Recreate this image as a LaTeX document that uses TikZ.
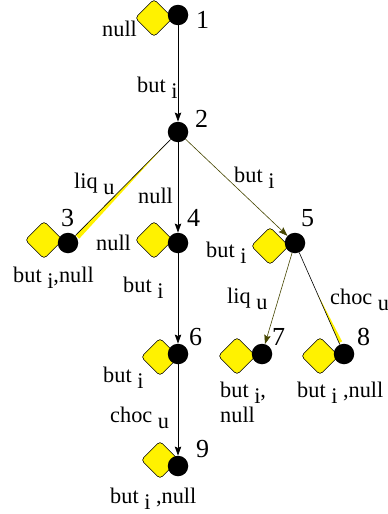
\documentclass[tikz,border=0pt]{standalone}
\usepackage{fontspec}
\setmainfont{Liberation Serif}
\usetikzlibrary{arrows.meta,calc}
\definecolor{olivedark}{RGB}{70,70,0}
\newcommand\sbs[1]{\raisebox{-6pt}{#1}}
\tikzset{
  dia/.style={draw=black, line width=0.6pt, fill=yellow, rounded corners=3.5pt, minimum size=26.5pt, inner sep=0pt, rotate=45},
  dot/.style={circle, fill=black, minimum size=20.5pt, inner sep=0pt},
  lbl/.style={anchor=base west, inner sep=0pt, font=\fontsize{22.3}{24}\selectfont},
  num/.style={anchor=base west, inner sep=0pt, font=\fontsize{26}{28}\selectfont},
  arr/.style={line width=0.6pt, -{Stealth[length=9pt,width=6.5pt,inset=1.5pt]}},
  ln/.style={line width=0.6pt}
}
\begin{document}
\begin{tikzpicture}[x=1pt,y=-1pt]
\fill[white] (0,0) rectangle (388,514);
\useasboundingbox (0,0) rectangle (388,514);
% diamonds
\node[dia] (d1) at (154,18) {};
\node[dia] (d3) at (44,240) {};
\node[dia] (d4) at (154,240) {};
\node[dia] (d5) at (270,246) {};
\node[dia] (d6) at (160,357) {};
\node[dia] (d7) at (237,356) {};
\node[dia] (d8) at (320,356) {};
\node[dia] (d9) at (160,460) {};
% circles
\node[dot] (c1) at (178,15) {};
\node[dot] (c2) at (178,132) {};
\node[dot] (c3) at (68,243) {};
\node[dot] (c4) at (178,243) {};
\node[dot] (c5) at (295,243) {};
\node[dot] (c6) at (178,354) {};
\node[dot] (c7) at (262,354) {};
\node[dot] (c8) at (344,354) {};
\node[dot] (c9) at (178,466) {};
% edges
\draw[arr] (c1) -- (c2);
\fill[yellow] ($(c2)!0.12!(c3)$) -- ($(c2)!0.93!(c3)$) -- ($(c2)!0.93!(c3)+(3.5,3.5)$) -- cycle;
\draw[ln] (c2) -- (c3);
\draw[arr] (c2) -- (c4);
\draw[arr, olivedark] (c2) -- (c5);
\draw[arr] (c4) -- (c6);
\draw[arr] (c6) -- (c9);
\draw[arr, olivedark] (c5) -- (c7);
\fill[yellow] ($(c5)!0.45!(c8)$) -- ($(c5)!0.9!(c8)$) -- ($(c5)!0.9!(c8)+(3,-1.5)$) -- cycle;
\draw[ln] (c5) -- (c8);
% numbers
\node[num] (n1) at (196,28) {1};
\node[num] (n2) at (195,127) {2};
\node[num] (n3) at (61,226) {3};
\node[num] (n4) at (187,226) {4};
\node[num] (n5) at (301,226) {5};
\node[num] (n6) at (189,345) {6};
\node[num] (n7) at (272,345) {7};
\node[num] (n8) at (357,345) {8};
\node[num] (n9) at (196,457) {9};
% labels
\node[lbl] (t1) at (102,36) {null};
\node[lbl] (e12) at (137,92) {but \sbs{i}};
\node[lbl] (e23) at (74,188) {liq \sbs{u}};
\node[lbl] (e24) at (138,203) {null};
\node[lbl] (e25) at (234,182) {but \sbs{i}};
\node[lbl] (t3) at (13,282) {but \sbs{i},null};
\node[lbl] (t4) at (96,250) {null};
\node[lbl] (t5) at (206,257) {but \sbs{i}};
\node[lbl] (e46) at (123,292) {but \sbs{i}};
\node[lbl] (e57) at (227,303) {liq \sbs{u}};
\node[lbl] (e58) at (330,304) {choc \sbs{u}};
\node[lbl] (t6) at (103,382) {but \sbs{i}};
\node[lbl] (e69) at (110,422) {choc \sbs{u}};
\node[lbl] (t7a) at (220,397) {but \sbs{i},};
\node[lbl] (t7b) at (220,422) {null};
\node[lbl] (t8) at (297,397) {but \sbs{i} ,null};
\node[lbl] (t9) at (110,503) {but \sbs{i} ,null};
\end{tikzpicture}
\end{document}
